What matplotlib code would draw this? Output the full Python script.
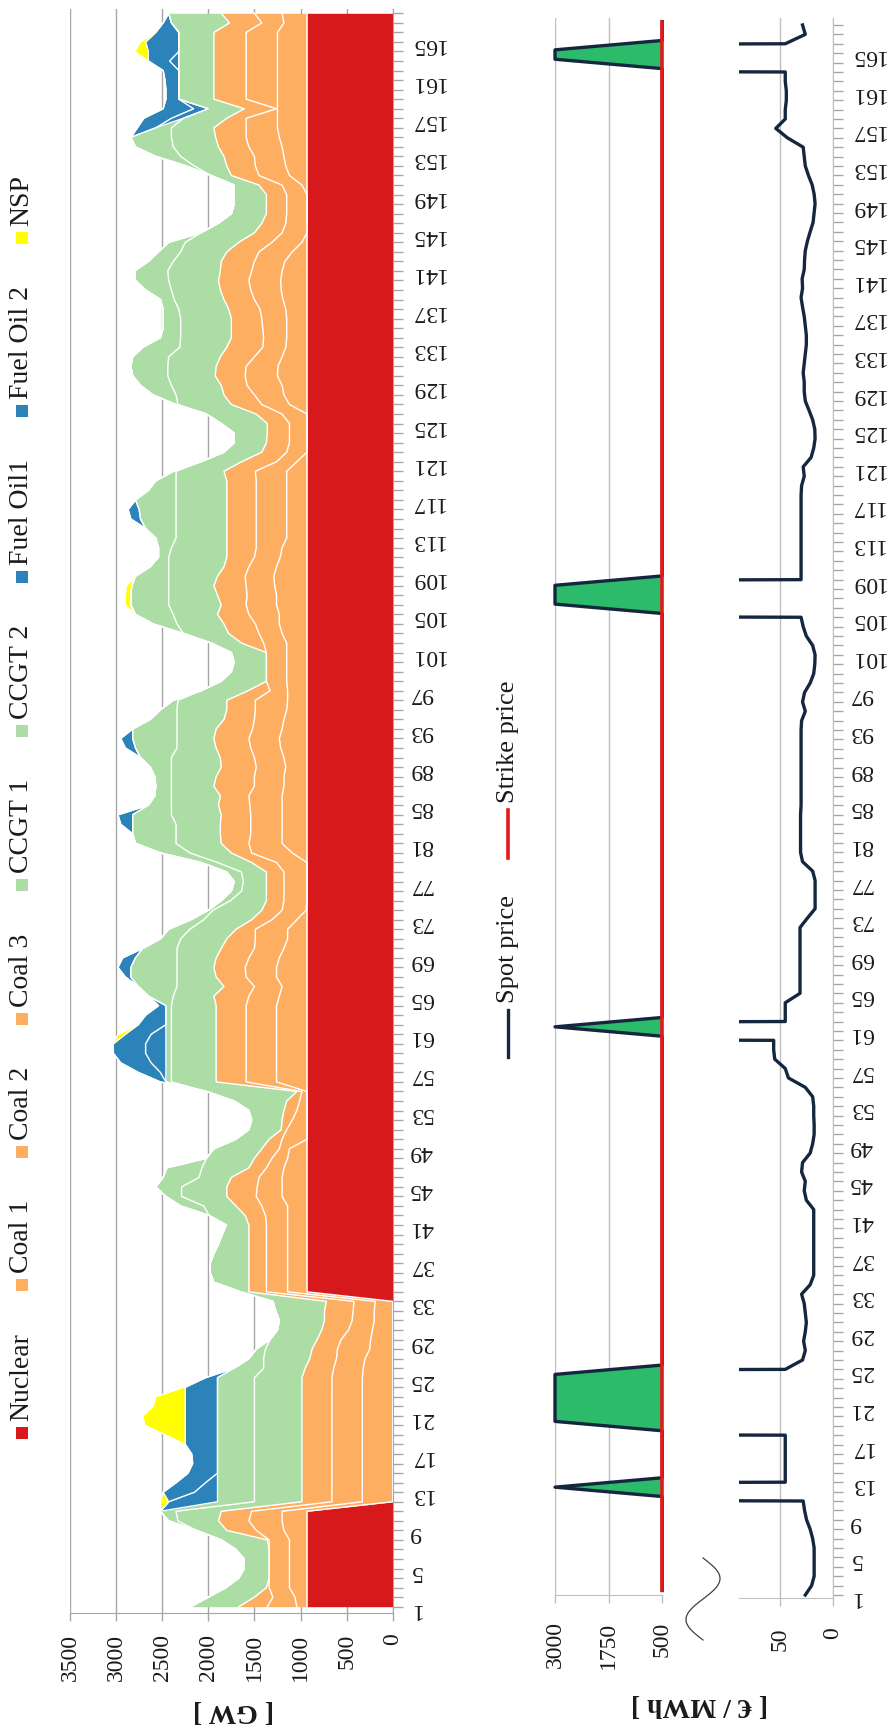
import numpy as np
import matplotlib
matplotlib.use('Agg')
import matplotlib.pyplot as plt
from matplotlib.patches import Rectangle
from matplotlib.lines import Line2D
from matplotlib.ticker import MultipleLocator

plt.rcParams['font.family'] = ['Liberation Serif', 'DejaVu Serif']

hours = np.arange(1, 169)

# stacked generation, read as the top edge of each layer [GW]
nuclear = [930] * 11 + [0] * 22 + [930] * 135

coal1_top = [
    1040, 1060, 1120, 1120, 1120, 1120, 1120, 1120, 1180, 1200, 1200,
    330, 330, 330, 330, 330, 330, 330, 330, 330, 330, 330, 330, 330, 330,
    320, 300, 250, 240, 220, 200, 200, 190,
    1140, 1140, 1140, 1140, 1140, 1140, 1140, 1140,
    1140, 1140, 1200, 1200, 1200, 1180, 1140, 1120, 930, 930, 930, 930, 930, 930,
    1260, 1260, 1260, 1260, 1260, 1260, 1260, 1260, 1260,
    1230, 1200, 1260, 1260, 1230, 1180, 1140, 1140, 1040, 940, 930, 930, 930, 930, 930,
    1090, 1200, 1200, 1200, 1200,
    1200, 1200, 1180, 1180, 1160, 1180, 1215, 1230, 1200, 1180, 1150, 1140, 1140, 1150,
    1150, 1150, 1150, 1150, 1200, 1230, 1230, 1260, 1260, 1280, 1290, 1260, 1220, 1200,
    1150, 1150, 1150, 1150, 1150, 1150, 1150, 1150, 1040, 930, 930, 930, 930, 930, 1120,
    1180, 1200, 1250, 1245, 1200, 1160, 1150, 1150, 1150, 1160, 1190, 1210, 1215, 1200,
    1170, 1090, 985, 930, 930, 930, 930, 930, 985, 1120, 1160, 1180, 1200, 1230, 1250,
    1250, 1250, 1250, 1250, 1250, 1250, 1250, 1250, 1250, 1250, 1180, 1200,
]
coal2_top = [
    1360, 1300, 1340, 1340, 1340, 1340, 1340, 1340, 1480, 1560, 1530,
    660, 660, 660, 660, 660, 660, 660, 660, 660, 660, 660, 660, 660, 660,
    640, 610, 600, 560, 480, 440, 430, 420,
    1370, 1370, 1370, 1370, 1370, 1370, 1370, 1370,
    1380, 1420, 1480, 1470, 1450, 1370, 1310, 1230, 1200, 1150, 1090, 1040, 1010, 985,
    1590, 1590, 1590, 1590, 1590, 1590, 1590, 1590, 1590,
    1560, 1500, 1590, 1600, 1560, 1500, 1490, 1490, 1310, 1200, 1180, 1180, 1180, 1180,
    1260, 1530, 1560, 1540, 1540, 1540,
    1550, 1560, 1500, 1500, 1480, 1500, 1540, 1560, 1520, 1500, 1490, 1490, 1330, 1370,
    1370, 1370, 1370, 1400, 1450, 1490, 1560, 1590, 1580, 1590, 1600, 1560, 1500, 1480,
    1480, 1480, 1480, 1480, 1480, 1480, 1480, 1490, 1260, 1150, 1120, 1120, 1120, 1200,
    1420, 1500, 1580, 1600, 1590, 1500, 1410, 1400, 1410, 1420, 1440, 1500, 1540, 1560, 1530,
    1500, 1450, 1310, 1200, 1160, 1150, 1150, 1150, 1200, 1450, 1490, 1500, 1560, 1590,
    1590, 1590, 1260, 1590, 1590, 1590, 1590, 1590, 1590, 1590, 1590, 1420, 1500,
]
coal3_top = [
    1670, 1500, 1370, 1340, 1340, 1340, 1340, 1360, 1800, 1890, 1860,
    985, 985, 985, 985, 985, 985, 985, 985, 985, 985, 985, 985, 985, 985,
    950, 900, 875, 820, 770, 740, 740, 720,
    1560, 1560, 1560, 1560, 1560, 1560, 1560, 1560,
    1600, 1700, 1800, 1800, 1750, 1560, 1500, 1420, 1340, 1210, 1200, 1180, 1150, 1040,
    1915, 1915, 1915, 1915, 1915, 1915, 1915, 1915, 1915,
    1940, 1830, 1915, 1940, 1915, 1860, 1800, 1700, 1530, 1420, 1370, 1370, 1370, 1370,
    1530, 1750, 1860, 1870, 1870, 1860,
    1890, 1870, 1940, 1915, 1860, 1870, 1915, 1940, 1915, 1830, 1800, 1800, 1570, 1370,
    1370, 1370, 1370, 1640, 1780, 1830, 1900, 1860, 1900, 1940, 1900, 1830, 1800, 1800,
    1800, 1800, 1800, 1800, 1800, 1800, 1800, 1830, 1640, 1420, 1370, 1360, 1360, 1480,
    1750, 1830, 1860, 1925, 1915, 1870, 1800, 1750, 1750, 1750, 1780, 1830, 1870, 1890, 1870,
    1860, 1800, 1670, 1500, 1420, 1370, 1370, 1370, 1450, 1750, 1800, 1830, 1890, 1920,
    1940, 1800, 1610, 1940, 1940, 1940, 1940, 1940, 1940, 1940, 1940, 1770, 1860,
]
ccgt1_top = [
    2190, 2000, 1810, 1670, 1610, 1610, 1700, 1860, 2130, 2330, 2350,
    1500, 1500, 1500, 1500, 1500, 1500, 1500, 1500, 1500, 1500, 1500, 1500, 1500, 1500,
    1400, 1400, 1380, 1330, 1250, 1230, 1270, 1300,
    1650, 1940, 1980, 1980, 1940, 1890, 1850, 1805,
    1990, 2050, 2290, 2290, 2100, 2070, 2020, 1940, 1700, 1560, 1530, 1560, 1720, 2020,
    2400, 2400, 2400, 2400, 2400, 2400, 2400, 2400, 2400,
    2380, 2340, 2340, 2340, 2340, 2340, 2300, 2200, 2050, 1950, 1760, 1640, 1620, 1640,
    1900, 2200, 2350, 2350, 2350, 2400,
    2400, 2400, 2400, 2400, 2400, 2400, 2340, 2340, 2340, 2340, 2340, 2330, 2080, 1860,
    1750, 1720, 1750, 1970, 2270, 2340, 2380, 2430, 2430, 2430, 2430, 2430, 2430, 2400,
    2350, 2350, 2350, 2350, 2350, 2350, 2350, 2350, 2080, 1830, 1720, 1720, 1860, 2020,
    2330, 2350, 2400, 2440, 2440, 2430, 2310, 2300, 2300, 2300, 2320, 2370, 2400, 2430, 2440,
    2380, 2300, 2250, 2080, 1890, 1750, 1720, 1720, 1720, 1970, 2150, 2300, 2380, 2400,
    2400, 2270, 2000, 2320, 2320, 2320, 2320, 2320, 2320, 2320, 2320, 2400, 2430,
]
ccgt2_top = [
    2190, 2000, 1810, 1670, 1610, 1610, 1700, 1860, 2130, 2430, 2520,
    1900, 1900, 1900, 1900, 1900, 1900, 1900, 1900, 1900, 1900, 1900, 1900, 1900, 1900,
    1720, 1560, 1480, 1330, 1250, 1230, 1270, 1300,
    1650, 1940, 1980, 1980, 1940, 1890, 1850, 1805,
    1990, 2300, 2460, 2570, 2490, 2450, 2020, 1940, 1700, 1560, 1530, 1560, 1720, 2020,
    2460, 2460, 2460, 2460, 2460, 2460, 2460, 2460, 2460,
    2650, 2760, 2840, 2840, 2790, 2710, 2520, 2430, 2190, 2000, 1860, 1750, 1720, 1800,
    2080, 2520, 2790, 2820, 2820, 2820,
    2650, 2580, 2570, 2580, 2630, 2735, 2790, 2820, 2820, 2630, 2520, 2380, 2080, 1860,
    1750, 1720, 1750, 1970, 2270, 2600, 2790, 2840, 2840, 2830, 2790, 2630, 2540, 2540,
    2570, 2680, 2735, 2750, 2790, 2650, 2570, 2380, 2080, 1830, 1720, 1720, 1860, 2020,
    2350, 2600, 2735, 2820, 2840, 2820, 2710, 2520, 2490, 2490, 2490, 2520, 2680, 2790, 2800,
    2650, 2540, 2430, 2080, 1890, 1750, 1720, 1720, 1720, 1970, 2240, 2570, 2790, 2840,
    2570, 2270, 2000, 2320, 2320, 2320, 2320, 2320, 2320, 2320, 2320, 2400, 2430,
]
# thin layers, hour -> GW (zero elsewhere)
fuel_oil1 = {12: 530, 13: 250, 14: 130, 57: 60, 58: 160, 59: 220, 60: 220, 61: 160,
             157: 130, 158: 160, 163: 100}
fuel_oil2 = {13: 340, 14: 320, 15: 320, 16: 270, 17: 280, 18: 350, 19: 350, 20: 350,
             21: 350, 22: 350, 23: 350, 24: 350, 25: 130, 56: 60, 57: 240, 58: 330,
             59: 350, 60: 350, 61: 280, 62: 300, 63: 220, 64: 80, 67: 60, 68: 140,
             69: 140, 83: 130, 84: 160, 91: 110, 92: 130, 115: 105, 116: 120,
             156: 200, 157: 300, 158: 330, 159: 140, 160: 140, 161: 150, 162: 170,
             163: 230, 164: 330, 165: 360, 166: 250, 167: 90}
nsp = {12: 90, 19: 210, 20: 440, 21: 460, 22: 350, 23: 320, 24: 20, 61: 80,
       106: 60, 107: 60, 108: 60, 164: 150, 165: 55}

# spot price [EUR/MWh]
spot = [
    26, 20, 17.6, 17.6, 17.6, 17.6, 19, 21.4, 24.8, 26.7, 28,
    3000,
    45, 45, 45, 45, 45, 45,
    3000, 3000, 3000, 3000, 3000, 3000,
    45, 28.6, 26, 27.6, 26, 25, 26, 27, 29.5,
    21.4, 18, 18, 18, 18, 18, 18, 18, 18,
    25, 27, 26, 29.5, 28.6, 21.4, 19, 17.6, 17.6, 18, 18, 19, 26,
    42, 45, 55, 56, 56,
    3000,
    45, 45, 45,
    31, 31, 31, 31, 31, 31, 31, 31,
    24, 16.7, 16.7, 16.7, 16.7, 19, 28.6,
    30.5, 30.5, 30.5, 30.5, 30.5,
    30, 30, 30, 30, 30, 30, 30, 30, 30,
    29.5, 26, 28.6, 26.7, 21.4, 18, 17, 16.7, 19, 25, 28, 30,
    3000, 3000, 3000,
    30, 30, 30, 30, 30, 30, 30, 30, 30, 30,
    29.5, 27, 28, 20.5, 18, 16.7, 17, 19, 22.4, 26, 27, 27, 28, 27, 26, 25, 25, 26, 27,
    28.6, 30, 28.6, 29,
    27, 26.7, 26, 24, 21.4, 18.6, 17.6, 16.7, 17.6, 19.5, 23, 26, 27, 28,
    43, 54, 45, 45, 44, 44, 45, 45,
    3000, 3000,
    45, 26, 28.6,
]
strike = 500

legend_names = ['Nuclear', 'Coal 1', 'Coal 2', 'Coal 3', 'CCGT 1', 'CCGT 2',
                'Fuel Oil1', 'Fuel Oil 2', 'NSP']
gw_ticks = [0, 500, 1000, 1500, 2000, 2500, 3000, 3500]
hi_ticks = [500, 1750, 3000]
lo_ticks = [0, 50]

for name, arr in [('coal1', coal1_top), ('coal2', coal2_top), ('coal3', coal3_top),
                  ('ccgt1', ccgt1_top), ('ccgt2', ccgt2_top), ('spot', spot)]:
    assert len(arr) == 168, (name, len(arr))


def sparse(d):
    out = np.zeros(168)
    for h, v in d.items():
        out[h - 1] = v
    return out


top_fo1 = np.array(ccgt2_top) + sparse(fuel_oil1)
top_fo2 = top_fo1 + sparse(fuel_oil2)
top_nsp = top_fo2 + sparse(nsp)
levels = [np.zeros(168), np.array(nuclear), np.array(coal1_top), np.array(coal2_top),
          np.array(coal3_top), np.array(ccgt1_top), np.array(ccgt2_top),
          top_fo1, top_fo2, top_nsp]

red, orange, lgreen, blue, yellow = '#d7191c', '#fdae61', '#abdda4', '#2b83ba', '#ffff00'
layer_colors = [red, orange, orange, orange, lgreen, lgreen, blue, blue, yellow]
navy = '#15263f'
fill_green = '#2bbb6b'
strike_red = '#e3191c'
ink = '#1a1a1a'
grid_c = '#a6a6a6'

W, H = 891, 1730
fig = plt.figure(figsize=(W / 100, H / 100), dpi=100)


def px_box(x0, x1, y0, y1):
    return [x0 / W, 1 - y1 / H, (x1 - x0) / W, (y1 - y0) / H]


def hour_axis(ax):
    ax.yaxis.tick_right()
    ax.set_yticks(np.arange(1, 169, 4))
    ax.yaxis.set_minor_locator(MultipleLocator(1))
    ax.tick_params(axis='y', which='both', direction='out', length=7, width=1,
                   color=grid_c, labelrotation=180, labelsize=17, labelcolor=ink, pad=5)


# ---- generation stack
ax1 = fig.add_axes(px_box(70, 392.7, 9, 1612.7))
for lo, hi, c in zip(levels[:-1], levels[1:], layer_colors):
    ax1.fill_betweenx(hours, lo, hi, color=c, lw=0, zorder=2)
for lv in levels[1:]:
    ax1.plot(lv, hours, color='white', lw=1.0, zorder=2.2)
ax1.set_xlim(3500, 0)
ax1.set_ylim(0.37, 168.45)
ax1.set_xticks(gw_ticks)
ax1.grid(axis='x', color=grid_c, lw=1)
ax1.set_axisbelow(True)
ax1.tick_params(axis='x', direction='out', length=6, width=1, color=grid_c,
                labelrotation=90, labelsize=17, labelcolor=ink, pad=9)
hour_axis(ax1)
for s in ['left', 'top']:
    ax1.spines[s].set_visible(False)
for s in ['bottom', 'right']:
    ax1.spines[s].set_color(grid_c)

# ---- price above strike
above = np.maximum(np.array(spot), strike)
ax2 = fig.add_axes(px_box(555, 662.3, 18, 1595))
ax2.fill_betweenx(hours, strike, above, color=fill_green, lw=0, zorder=2)
ax2.plot(above, hours, color=navy, lw=2.4, zorder=3, clip_on=False)
ax2.plot(np.full(168, strike), hours, color=strike_red, lw=2.6, zorder=4, clip_on=False)
ax2.set_xlim(3000, 500)
ax2.set_ylim(0.52, 168.39)
ax2.set_xticks(hi_ticks)
ax2.set_yticks([])
ax2.grid(axis='x', color='#bfbfbf', lw=1)
ax2.set_axisbelow(True)
ax2.tick_params(axis='x', direction='out', length=6, width=1, color='#bfbfbf',
                labelrotation=90, labelsize=17, labelcolor=ink, pad=13)
for s in ['left', 'top', 'right']:
    ax2.spines[s].set_visible(False)
ax2.spines['bottom'].set_color('#bfbfbf')

# ---- spot price, low range
ax3 = fig.add_axes(px_box(739.3, 832.7, 18.3, 1598.3))
ax3.plot(spot, hours, color=navy, lw=2.4, zorder=3)
ax3.set_xlim(88.6, 0)
ax3.set_ylim(0.65, 168.71)
ax3.set_xticks(lo_ticks)
ax3.grid(axis='x', color='#bfbfbf', lw=1)
ax3.set_axisbelow(True)
ax3.tick_params(axis='x', direction='out', length=6, width=1, color='#bfbfbf',
                labelrotation=90, labelsize=17, labelcolor=ink, pad=15)
hour_axis(ax3)
for s in ['left', 'top']:
    ax3.spines[s].set_visible(False)
for s in ['bottom', 'right']:
    ax3.spines[s].set_color('#bfbfbf')

# axis titles
fig.text(233 / W, 1 - 1710 / H, '[ GW ]', rotation=180, ha='center', va='center',
         size=20, weight='bold', color=ink)
fig.text(700 / W, 1 - 1705 / H, '[ € / MWh ]', rotation=180, ha='center', va='center',
         size=20, weight='bold', color=ink)

# axis break mark
t = np.linspace(0, 1, 120)
fig.add_artist(Line2D((703 + 17 * np.sin(2 * np.pi * t)) / W, 1 - (1558 + 82 * t) / H,
                      color='#404040', lw=0.9, transform=fig.transFigure))

# stack legend, laid out upwards along the left edge
fig.canvas.draw()
renderer = fig.canvas.get_renderer()
lx, ly, sq = 21.7, 1433, 12
for name, c in zip(legend_names, [red, orange, orange, orange, lgreen, lgreen, blue, blue, yellow]):
    fig.add_artist(Rectangle(((lx - sq / 2) / W, 1 - (ly + sq / 2) / H), sq / W, sq / H,
                             transform=fig.transFigure, color=c, lw=0))
    txt = fig.text(lx / W, 1 - (ly - sq / 2 - 6) / H, name, rotation=90, ha='center',
                   va='bottom', size=20, color=ink)
    bb = txt.get_window_extent(renderer)
    ly = (H - bb.y1) - 42 - sq / 2

# price legend
fig.add_artist(Line2D([508 / W] * 2, [1 - 1057 / H, 1 - 1010 / H], color=navy, lw=2.4,
                      transform=fig.transFigure))
fig.text(508 / W, 1 - 1003 / H, 'Spot price', rotation=90, ha='center', va='bottom',
         size=19, color=ink)
fig.add_artist(Line2D([508 / W] * 2, [1 - 858 / H, 1 - 810 / H], color=strike_red, lw=2.6,
                      transform=fig.transFigure))
fig.text(508 / W, 1 - 803 / H, 'Strike price', rotation=90, ha='center', va='bottom',
         size=19, color=ink)

fig.savefig('out.png', dpi=100)
